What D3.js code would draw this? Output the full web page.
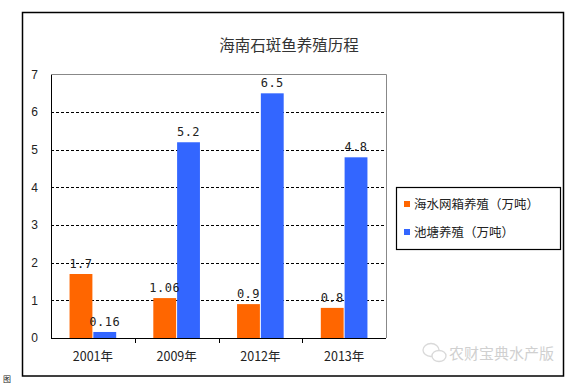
<!DOCTYPE html>
<html><head><meta charset="utf-8">
<script src="https://cdn.jsdelivr.net/npm/d3@7"></script>
<style>body{margin:0;background:#fff;}svg{display:block;}</style>
</head><body>
<script>
const categories = ["2001年","2009年","2012年","2013年"];
const seriesNames = ["海水网箱养殖（万吨）","池塘养殖（万吨）"];
const cageValues = [1.7, 1.06, 0.9, 0.8];
const pondValues = [0.16, 5.2, 6.5, 4.8];
const cageLabels = ["1.7","1.06","0.9","0.8"];
const pondLabels = ["0.16","5.2","6.5","4.8"];
const yTicks = [0,1,2,3,4,5,6,7];
const title = "海南石斑鱼养殖历程";
const colors = ["#FF6600","#3366FF"];

(function(){
const W=573,H=383;
const svg=d3.select("body").append("svg").attr("width",W).attr("height",H);
const font="'Noto Sans CJK SC','DejaVu Sans',sans-serif";

// outer frame
svg.append("rect").attr("x",22.5).attr("y",12.5).attr("width",541).attr("height",363.5)
  .attr("fill","#fff").attr("stroke","#000").attr("stroke-width",1.5);

const pL=51,pR=386,pT=74.5,pB=338;
const x=d3.scaleBand().domain(categories).range([pL,pR]);
const y=d3.scaleLinear().domain([0,7]).range([pB,pT]);
const x1=d3.scaleBand().domain([0,1]).range([0,x.bandwidth()]).paddingOuter(0.78).paddingInner(0.04);

// title
svg.append("text").attr("x",289).attr("y",51).attr("text-anchor","middle")
  .attr("font-family",font).attr("font-size",15.5).attr("fill","#333").text(title);

// grid
svg.append("g").selectAll("line").data(yTicks.filter(d=>d>0&&d<7)).join("line")
  .attr("x1",pL).attr("x2",pR).attr("y1",d=>Math.round(y(d))+0.5).attr("y2",d=>Math.round(y(d))+0.5)
  .attr("stroke","#000").attr("stroke-dasharray","3,2").attr("stroke-width",1);
// top and right borders (gray)
svg.append("path").attr("d",`M${pL},${pT}H${pR+0.5}V${pB}`).attr("fill","none").attr("stroke","#888").attr("stroke-width",1);

// bars
const data=categories.map((c,i)=>({c,vals:[cageValues[i],pondValues[i]],labs:[cageLabels[i],pondLabels[i]]}));
const g=svg.append("g").selectAll("g").data(data).join("g").attr("transform",d=>`translate(${x(d.c)},0)`);
g.selectAll("rect").data(d=>d.vals.map((v,k)=>({v,k}))).join("rect")
  .attr("x",d=>x1(d.k)).attr("width",x1.bandwidth()).attr("y",d=>y(d.v)).attr("height",d=>pB-y(d.v))
  .attr("fill",d=>colors[d.k]);
g.selectAll("text").data(d=>d.vals.map((v,k)=>({v,k,l:d.labs[k]}))).join("text")
  .attr("x",d=>x1(d.k)+x1.bandwidth()/2).attr("y",d=>y(d.v)-6).attr("text-anchor","middle")
  .attr("font-family","'DejaVu Sans Mono',monospace").attr("font-size",12).attr("fill","#222")
  .attr("letter-spacing",0.5).text(d=>d.l);

// y axis
const ya=svg.append("g").attr("transform",`translate(${pL},0)`)
  .call(d3.axisLeft(y).tickValues(yTicks).tickSize(0).tickPadding(13).tickFormat(d3.format("d")));
ya.select(".domain").attr("stroke","#000");
ya.selectAll("text").attr("font-family","'Liberation Sans',sans-serif").attr("font-size",12).attr("fill","#222");

// x axis
const xa=svg.append("g").attr("transform",`translate(0,${pB})`)
  .call(d3.axisBottom(x).tickSize(0).tickPadding(14));
xa.select(".domain").attr("stroke","#000").attr("d",`M${pL},0.5H${pR}`);
xa.selectAll("text").attr("font-family",font).attr("font-size",12.5).attr("fill","#222");
svg.append("g").selectAll("line").data(categories.slice(1)).join("line")
  .attr("x1",d=>Math.round(x(d))+0.5).attr("x2",d=>Math.round(x(d))+0.5).attr("y1",pB).attr("y2",pB+5)
  .attr("stroke","#000");

// legend
svg.append("rect").attr("x",396.5).attr("y",187.5).attr("width",164).attr("height",62)
  .attr("fill","#fff").attr("stroke","#000").attr("stroke-width",1.2);
const lg=svg.append("g").selectAll("g").data(seriesNames).join("g")
  .attr("transform",(d,i)=>`translate(404,${204+i*28})`);
lg.append("rect").attr("x",0).attr("y",-3).attr("width",6).attr("height",6).attr("fill",(d,i)=>colors[i]);
lg.append("text").attr("x",10).attr("y",4.5).attr("font-family",font).attr("font-size",12.5).attr("fill","#222").text(d=>d);

// watermark
const wm=svg.append("g").attr("opacity",0.55);
wm.append("ellipse").attr("cx",431).attr("cy",350).attr("rx",8).attr("ry",6.5).attr("fill","none").attr("stroke","#bbb").attr("stroke-width",1.3);
wm.append("ellipse").attr("cx",439).attr("cy",356).attr("rx",7).attr("ry",5.5).attr("fill","#fff").attr("stroke","#bbb").attr("stroke-width",1.3);
wm.append("text").attr("x",449).attr("y",359).attr("font-family",font).attr("font-size",15).attr("fill","#aaa").text("农财宝典水产版");

// bottom-left fragment
svg.append("text").attr("x",3).attr("y",382).attr("font-family",font).attr("font-size",8).attr("fill","#222").text("图");
})();
</script>
</body></html>
